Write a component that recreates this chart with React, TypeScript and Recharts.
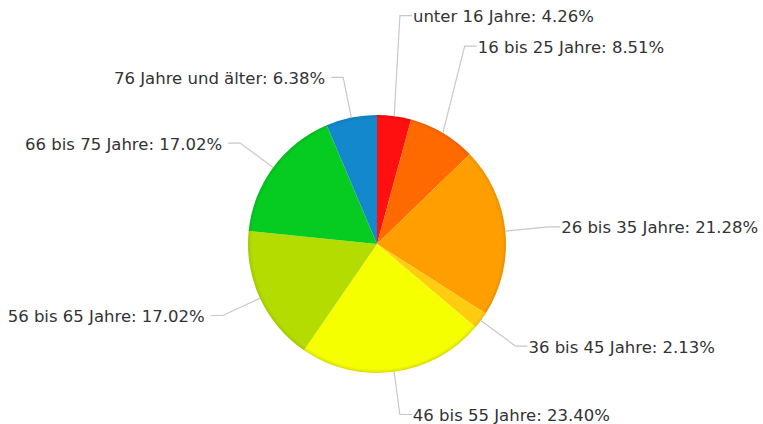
import React from 'react';
import { PieChart, Pie, Cell } from 'recharts';

const ageGroups = [
  'unter 16 Jahre',
  '16 bis 25 Jahre',
  '26 bis 35 Jahre',
  '36 bis 45 Jahre',
  '46 bis 55 Jahre',
  '56 bis 65 Jahre',
  '66 bis 75 Jahre',
  '76 Jahre und älter',
];
const shares = [4.26, 8.51, 21.28, 2.13, 23.4, 17.02, 17.02, 6.38];
const sliceColors = ['#ff1010', '#ff6a00', '#ff9e00', '#ffcc10', '#f6ff00', '#b4dc00', '#06cc22', '#1488cc'];
const edgeColors = ['#e80808', '#ea6000', '#ea9000', '#e8bb10', '#d8dc00', '#a2c600', '#06b81f', '#127cba'];

// extra upward push for the crowded labels at the top right
const labelLift = [58, 50, 0, 0, 0, 0, 0, 0];

const data = ageGroups.map((name, i) => ({ name, value: shares[i] }));

const CX = 377;
const CY = 244;
const R = 129;
const RAD = Math.PI / 180;

function renderLabel(props: any) {
  const { cx, cy, midAngle, outerRadius, index, name, value } = props;
  const cos = Math.cos(-midAngle * RAD);
  const sin = Math.sin(-midAngle * RAD);
  const right = cos >= 0;
  const dist = right ? 43 : 41;
  const sx = cx + outerRadius * cos;
  const sy = cy + outerRadius * sin;
  const ex = cx + (outerRadius + dist) * cos;
  const ey = cy + (outerRadius + dist) * sin - labelLift[index];
  const hx = ex + (right ? 12 : -12);
  const tx = hx + (right ? 1 : -6);
  return (
    <g>
      <polyline
        points={`${sx},${sy} ${ex},${ey} ${hx},${ey}`}
        fill="none"
        stroke="#c8c8c8"
        strokeWidth={1.2}
      />
      <text
        x={tx}
        y={ey}
        dy={6.5}
        textAnchor={right ? 'start' : 'end'}
        fill="#333"
        fontSize={16.5}
        fontFamily="DejaVu Sans, Verdana, sans-serif"
      >
        {`${name}: ${value.toFixed(2)}%`}
      </text>
    </g>
  );
}

export default function App() {
  return (
    <div style={{ width: 763, height: 424, background: '#fff' }}>
      <style>{`body { margin: 0; }`}</style>
      <PieChart width={763} height={424} margin={{ top: 0, right: 0, bottom: 0, left: 0 }}>
        <defs>
          {sliceColors.map((c, i) => (
            <radialGradient key={i} id={`g${i}`} cx={CX} cy={CY} r={R} gradientUnits="userSpaceOnUse">
              <stop offset="0%" stopColor={c} />
              <stop offset="97%" stopColor={c} />
              <stop offset="100%" stopColor={edgeColors[i]} />
            </radialGradient>
          ))}
        </defs>
        <Pie
          data={data}
          dataKey="value"
          nameKey="name"
          cx={CX}
          cy={CY}
          outerRadius={R}
          startAngle={90}
          endAngle={-270}
          stroke="none"
          label={renderLabel}
          labelLine={false}
          isAnimationActive={false}
        >
          {data.map((_, i) => (
            <Cell key={i} fill={`url(#g${i})`} />
          ))}
        </Pie>
      </PieChart>
    </div>
  );
}
